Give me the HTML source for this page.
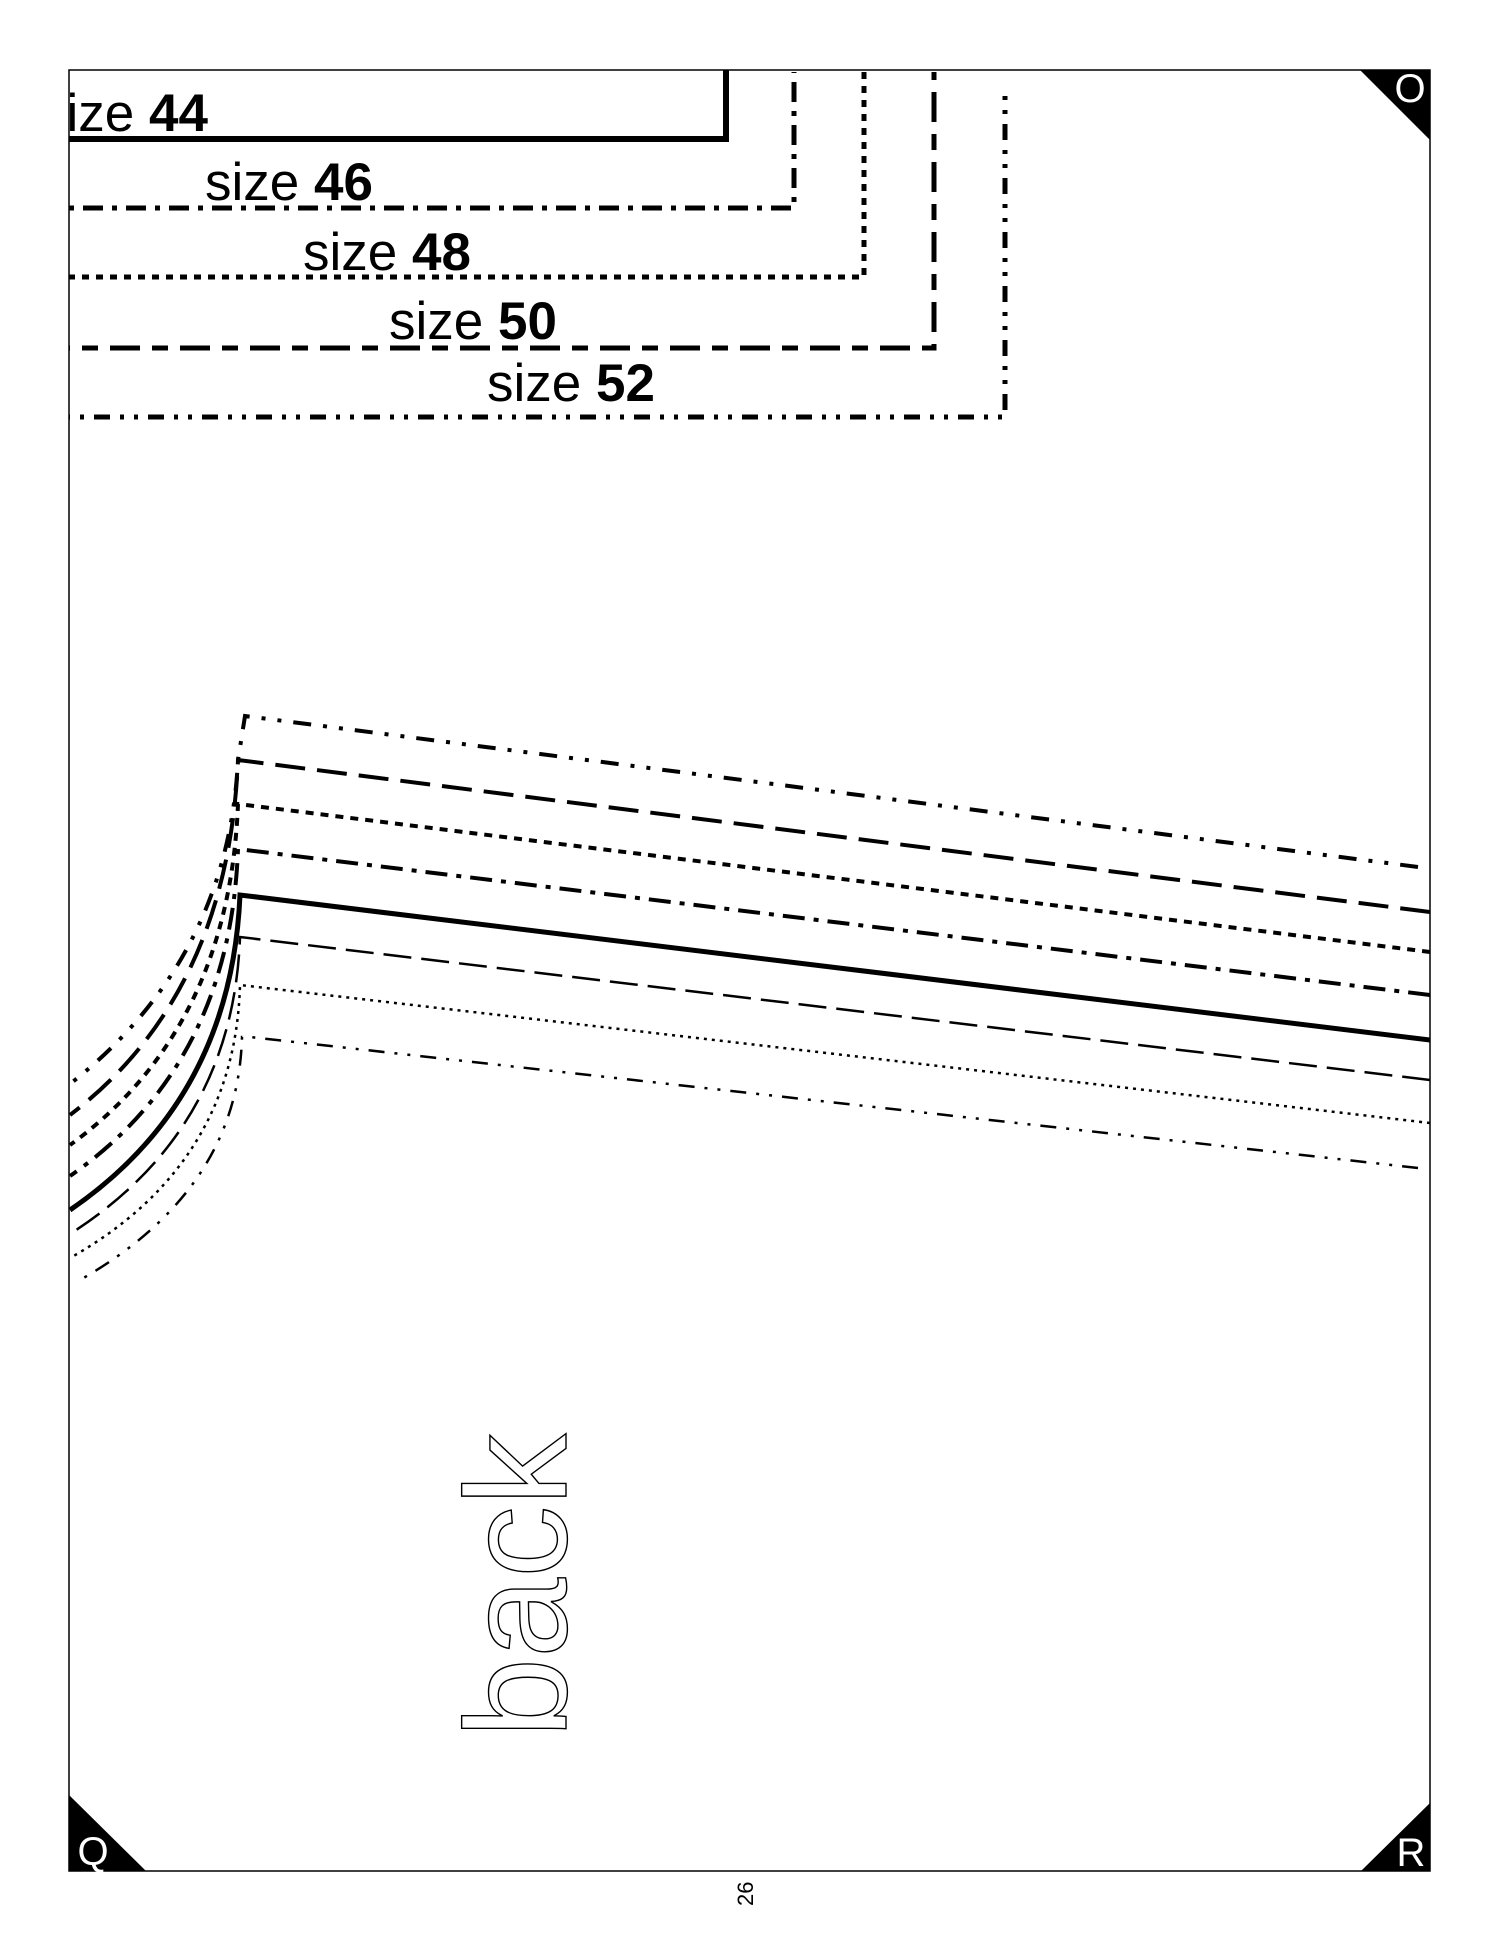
<!DOCTYPE html>
<html><head><meta charset="utf-8"><style>
html,body{margin:0;padding:0;background:#fff;}
svg{display:block;}
text{font-family:"Liberation Sans",sans-serif;}
</style></head><body>
<svg width="1500" height="1939" viewBox="0 0 1500 1939" xmlns="http://www.w3.org/2000/svg">
<defs><clipPath id="c"><rect x="69" y="70" width="1361" height="1801"/></clipPath></defs>
<rect x="0" y="0" width="1500" height="1939" fill="#fff"/>
<g clip-path="url(#c)" fill="none" stroke="#000">
  <path d="M40 139 H726 V66" stroke-width="6"/>
  <path d="M40 208 H794 V72" stroke-width="5" stroke-dasharray="20 9 5 9"/>
  <path d="M40 277 H864 V72" stroke-width="5" stroke-dasharray="7 7"/>
  <path d="M40 348 H934 V72" stroke-width="5" stroke-dasharray="30 12 16 12"/>
  <path d="M40 417 H1005 V90" stroke-width="5" stroke-dasharray="16 10 4 10 4 10"/>

  <path d="M1418 867 L245 716 L238 760 Q228 960 70 1084" stroke-width="4" stroke-dasharray="18 12 4 12 4 12"/>
  <path d="M1430 912 L238 760 Q228 995 70 1115" stroke-width="4" stroke-dasharray="30 12"/>
  <path d="M1430 952 L238 804 Q229 1030 70 1145" stroke-width="4" stroke-dasharray="8 7"/>
  <path d="M1430 995 L238 849 Q230 1065 70 1176" stroke-width="4" stroke-dasharray="22 9 5 9"/>
  <path d="M1430 1040 L240 895 Q231 1100 70 1210" stroke-width="5"/>
  <path d="M1430 1080 L240 937 Q233 1130 70 1234" stroke-width="2.5" stroke-dasharray="28 10"/>
  <path d="M1430 1123 L240 985 Q235 1165 70 1258" stroke-width="2.5" stroke-dasharray="3 5"/>
  <path d="M1418 1168 L250 1037 L242 1037 Q238 1190 80 1280" stroke-width="2.5" stroke-dasharray="16 10 3 10 3 10"/>

  <g stroke="none" fill="#000" font-size="53">
    <text x="40" y="131">size <tspan font-weight="bold">44</tspan></text>
    <text x="205" y="200">size <tspan font-weight="bold">46</tspan></text>
    <text x="303" y="270">size <tspan font-weight="bold">48</tspan></text>
    <text x="389" y="339">size <tspan font-weight="bold">50</tspan></text>
    <text x="487" y="401">size <tspan font-weight="bold">52</tspan></text>
  </g>
</g>

<rect x="69" y="70" width="1361" height="1801" fill="none" stroke="#000" stroke-width="1.5"/>

<polygon points="1360,70 1430,70 1430,140" fill="#000"/>
<text x="1410" y="102" font-size="40" fill="#fff" text-anchor="middle">O</text>
<polygon points="69,1795 69,1871 146,1871" fill="#000"/>
<text x="93" y="1865" font-size="40" fill="#fff" text-anchor="middle">Q</text>
<polygon points="1430,1803 1430,1871 1361,1871" fill="#000"/>
<text x="1411" y="1866" font-size="40" fill="#fff" text-anchor="middle">R</text>

<text transform="translate(566,1738) rotate(-90)" font-size="144" fill="#fff" stroke="#000" stroke-width="1.4">back</text>

<text transform="translate(753,1906) rotate(-90)" font-size="22" fill="#000">26</text>
</svg>
</body></html>
